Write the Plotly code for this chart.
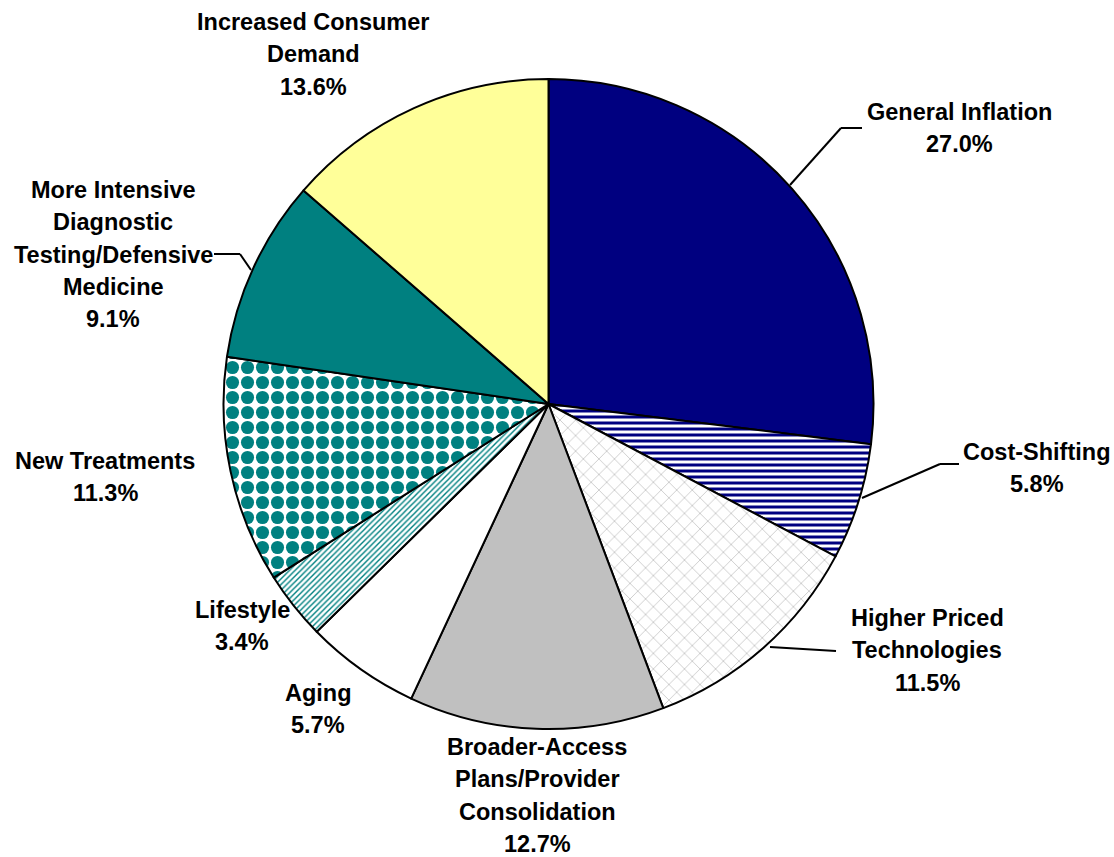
import plotly.graph_objects as go

W, H = 1114, 857

categories = ["General Inflation", "Cost-Shifting", "Higher Priced Technologies",
              "Broader-Access Plans/Provider Consolidation", "Aging", "Lifestyle",
              "New Treatments", "More Intensive Diagnostic Testing/Defensive Medicine",
              "Increased Consumer Demand"]
values = [27.0, 5.8, 11.5, 12.7, 5.7, 3.4, 11.3, 9.1, 13.6]

label_lines = [
    ["General Inflation"],
    ["Cost-Shifting"],
    ["Higher Priced", "Technologies"],
    ["Broader-Access", "Plans/Provider", "Consolidation"],
    ["Aging"],
    ["Lifestyle"],
    ["New Treatments"],
    ["More Intensive", "Diagnostic", "Testing/Defensive", "Medicine"],
    ["Increased Consumer", "Demand"],
]

# styles
bg_colors = ["#000080", "#FFFFFF", "#FFFFFF", "#C0C0C0", "#FFFFFF", "#FFFFFF",
             "#FFFFFF", "#008080", "#FFFF99"]
pat_shapes = ["", "-", "x", "", "", "/", ".", "", ""]
pat_fg = ["#000080", "#000080", "#C8C8C8", "#C0C0C0", "#FFFFFF", "#008080",
          "#008080", "#008080", "#FFFF99"]
pat_size = [8, 6, 11, 8, 8, 4, 15, 8, 8]
pat_solid = [0.3, 0.5, 0.15, 0.3, 0.3, 0.35, 0.6, 0.3, 0.3]

# label layout (pixel positions of the text block: center x, first line center y)
label_pos = [(959, 112), (1037, 452), (927, 618), (537, 747), (318, 693),
             (242, 610), (105, 461), (113, 190), (313, 22)]
line_gap = 32.3

# leader lines (pixel polylines)
leaders = [
    [(790, 185), (841, 128), (862, 128)],
    [(862, 498), (940, 464), (959, 464)],
    [(770, 647), (836, 651)],
    [(251, 270), (240, 254), (214, 254)],
]

cx0, cx1 = 223, 874
cy0, cy1 = 79, 729

fig = go.Figure(go.Pie(
    labels=categories,
    values=values,
    sort=False,
    direction="clockwise",
    rotation=0,
    textinfo="none",
    hoverinfo="label+percent",
    marker=dict(
        colors=bg_colors,
        line=dict(color="black", width=2),
        pattern=dict(shape=pat_shapes, fgcolor=pat_fg, bgcolor=bg_colors,
                     size=pat_size, solidity=pat_solid, fgopacity=1,
                     fillmode="overlay"),
    ),
    domain=dict(x=[cx0 / W, cx1 / W], y=[1 - cy1 / H, 1 - cy0 / H]),
    showlegend=False,
))

annotations = []
for lines, v, (px, py) in zip(label_lines, values, label_pos):
    allLines = lines + [f"{v:.1f}%"]
    for i, t in enumerate(allLines):
        yy = py + i * line_gap
        annotations.append(dict(
            x=px / W, y=1 - yy / H, xref="paper", yref="paper",
            text=f"<b>{t}</b>", showarrow=False, xanchor="center", yanchor="middle",
            borderpad=0,
            font=dict(family="Liberation Sans, Arial, sans-serif", size=23.5, color="black"),
        ))

shapes = []
for pts in leaders:
    for (x0, y0), (x1, y1) in zip(pts[:-1], pts[1:]):
        shapes.append(dict(type="line", xref="paper", yref="paper",
                           x0=x0 / W, y0=1 - y0 / H, x1=x1 / W, y1=1 - y1 / H,
                           line=dict(color="black", width=2)))

fig.update_layout(
    width=W, height=H,
    margin=dict(l=0, r=0, t=0, b=0),
    paper_bgcolor="white", plot_bgcolor="white",
    annotations=annotations, shapes=shapes,
)

fig.write_html("out.html")
